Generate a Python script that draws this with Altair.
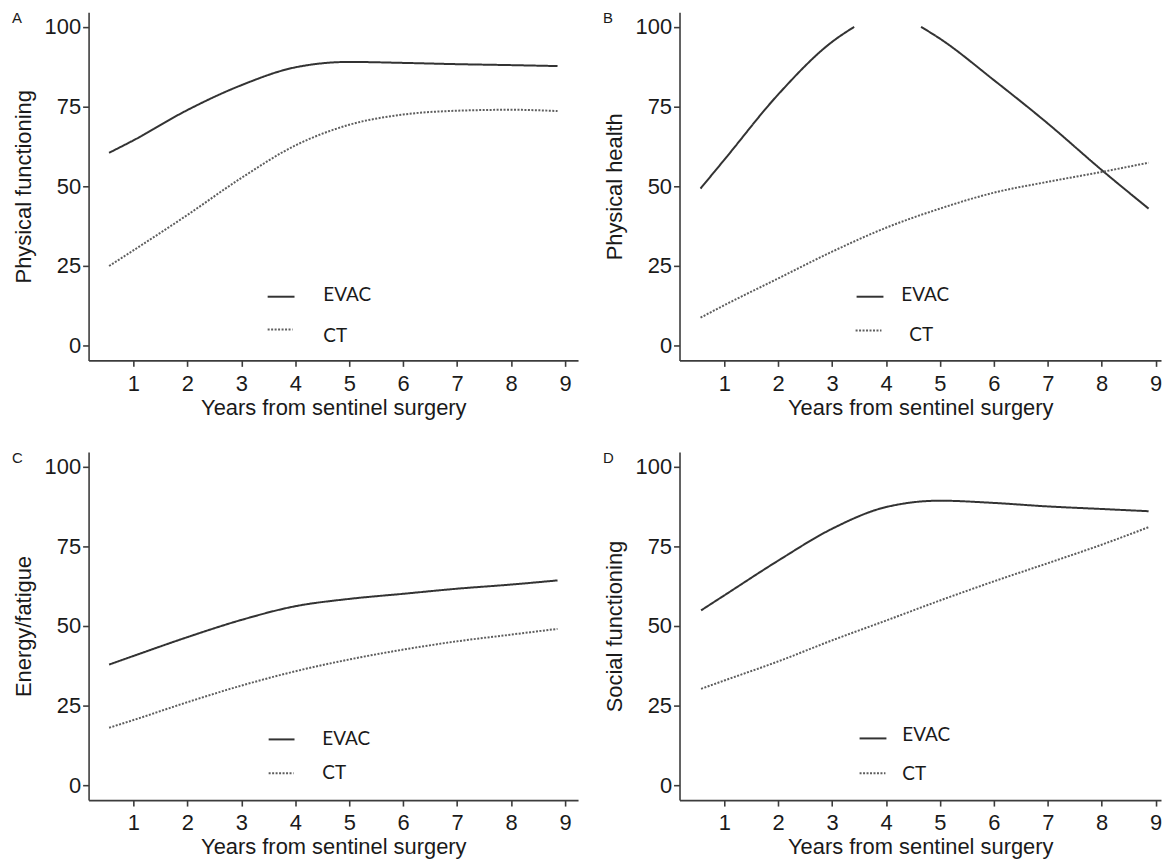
import altair as alt
import pandas as pd

# ---------------- data ----------------
GROUPS = ["EVAC", "CT"]
X_TICKS = [1, 2, 3, 4, 5, 6, 7, 8, 9]
Y_TICKS = [0, 25, 50, 75, 100]
X_TITLE = "Years from sentinel surgery"

X_GRID = [0.55, 1, 2, 3, 4, 5, 6, 7, 8, 8.86]

# Panel A - Physical functioning
A_EVAC = [60.5, 64.4, 73.9, 81.7, 87.3, 89.0, 88.7, 88.3, 88.0, 87.7]
A_CT = [25.0, 29.9, 41.0, 52.6, 62.8, 69.3, 72.5, 73.7, 74.0, 73.6]

# Panel B - Physical health (EVAC leaves the 0-100 range between ~3.4 and ~4.7)
B_X = [0.56, 1, 2, 3, 4, 5, 6, 7, 8, 8.87]
B_EVAC_X1 = [0.56, 1, 2, 3, 3.41]
B_EVAC_Y1 = [49.3, 58.3, 78.8, 95.3, 100.0]
B_EVAC_X2 = [4.65, 5, 6, 7, 8, 8.87]
B_EVAC_Y2 = [100.0, 96.3, 83.3, 69.7, 55.1, 43.0]
B_CT = [8.8, 12.7, 21.1, 29.5, 37.0, 43.0, 48.0, 51.4, 54.5, 57.4]

# Panel C - Energy/fatigue
C_EVAC = [37.9, 40.6, 46.5, 51.9, 56.2, 58.5, 60.1, 61.7, 63.0, 64.3]
C_CT = [18.1, 20.5, 26.1, 31.3, 35.8, 39.5, 42.6, 45.2, 47.3, 49.1]

# Panel D - Social functioning
D_X = [0.57, 1, 2, 3, 4, 5, 6, 7, 8, 8.87]
D_EVAC = [54.9, 59.6, 70.5, 80.5, 87.3, 89.3, 88.6, 87.5, 86.7, 86.0]
D_CT = [30.3, 32.9, 38.9, 45.5, 51.7, 58.0, 64.0, 69.7, 75.5, 81.0]

INK = "#1a1a1a"
EVAC_COLOR = "#333333"
CT_COLOR = "#5e5e5e"


def series_frame(series):
    rows = []
    for name, seg, xs, ys in series:
        for x, y in zip(xs, ys):
            rows.append({"x": x, "y": y, "group": name, "seg": seg})
    return pd.DataFrame(rows)


def panel(letter, ytitle, series, xmax, width, leg):
    df = series_frame(series)
    x = alt.X("x:Q", scale=alt.Scale(domain=[0.17, xmax], nice=False, zero=False),
              axis=alt.Axis(values=X_TICKS, title=X_TITLE, labelFlush=False))
    y = alt.Y("y:Q", scale=alt.Scale(domain=[-4.6, 104.6], nice=False, zero=False),
              axis=alt.Axis(values=Y_TICKS, title=ytitle, labelFlush=False))
    lines = alt.Chart(df).mark_line(interpolate="monotone", strokeWidth=2).encode(
        x=x, y=y, detail="seg:N",
        color=alt.Color("group:N", scale=alt.Scale(domain=GROUPS, range=[EVAC_COLOR, CT_COLOR]), legend=None),
        strokeDash=alt.StrokeDash("group:N", scale=alt.Scale(domain=GROUPS, range=[[1, 0], [2, 1.5]]), legend=None),
    )
    one = pd.DataFrame({"k": [0]})
    ev_rule = alt.Chart(one).mark_rule(color=EVAC_COLOR, strokeWidth=2).encode(
        x=alt.value(leg["ev"][0]), x2=alt.value(leg["ev"][1]), y=alt.value(leg["ev"][2]))
    ct_rule = alt.Chart(one).mark_rule(color=CT_COLOR, strokeWidth=2, strokeDash=[2, 1.5]).encode(
        x=alt.value(leg["ct"][0]), x2=alt.value(leg["ct"][1]), y=alt.value(leg["ct"][2]))
    ev_text = alt.Chart(one).mark_text(align="left", baseline="middle", font="Lato", fontSize=19, color=INK).encode(
        x=alt.value(leg["evt"][0]), y=alt.value(leg["evt"][1]), text=alt.value("EVAC"))
    ct_text = alt.Chart(one).mark_text(align="left", baseline="middle", font="Lato", fontSize=19, color=INK).encode(
        x=alt.value(leg["ctt"][0]), y=alt.value(leg["ctt"][1]), text=alt.value("CT"))
    tag = alt.Chart(one).mark_text(align="left", baseline="alphabetic", font="Liberation Sans", fontSize=15,
                                   color=INK).encode(
        x=alt.value(-77), y=alt.value(11), text=alt.value(letter))
    return alt.layer(lines, ev_rule, ct_rule, ev_text, ct_text, tag).properties(width=width, height=350)


pA = panel("A", "Physical functioning",
           [("EVAC", "e", X_GRID, A_EVAC), ("CT", "c", X_GRID, A_CT)],
           9.24, 492,
           {"ev": (180, 207, 286), "ct": (180, 205, 319), "evt": (236, 284), "ctt": (236, 326)})
pB = panel("B", "Physical health",
           [("EVAC", "e1", B_EVAC_X1, B_EVAC_Y1), ("EVAC", "e2", B_EVAC_X2, B_EVAC_Y2),
            ("CT", "c", B_X, B_CT)],
           9.1, 484,
           {"ev": (178, 205, 286), "ct": (177, 203, 320), "evt": (223, 284), "ctt": (231, 325)})
pC = panel("C", "Energy/fatigue",
           [("EVAC", "e", X_GRID, C_EVAC), ("CT", "c", X_GRID, C_CT)],
           9.24, 492,
           {"ev": (181, 207, 289), "ct": (181, 206, 323), "evt": (235, 289), "ctt": (235, 323)})
pD = panel("D", "Social functioning",
           [("EVAC", "e", D_X, D_EVAC), ("CT", "c", D_X, D_CT)],
           9.1, 484,
           {"ev": (181, 208, 288), "ct": (181, 207, 323), "evt": (224, 285), "ctt": (224, 324)})

chart = alt.vconcat(
    alt.hconcat(pA, pB, spacing=23),
    alt.hconcat(pC, pD, spacing=23),
    spacing=31,
).properties(
    padding={"left": 3, "top": 0, "right": 0, "bottom": 0}
).configure_view(
    stroke="transparent"
).configure_axis(
    labelFont="Liberation Sans", titleFont="Liberation Sans",
    labelFontSize=22, titleFontSize=22, titleFontWeight="normal",
    labelColor=INK, titleColor=INK,
    domainColor="#3c3c3c", tickColor="#3c3c3c",
    domainWidth=1.6, tickWidth=1.6, tickSize=6, grid=False,
).configure_axisX(
    labelPadding=7, titlePadding=3
).configure_axisY(
    labelPadding=2, titlePadding=9
)

chart.save("out.html", embed_options={"renderer": "svg", "actions": False})
